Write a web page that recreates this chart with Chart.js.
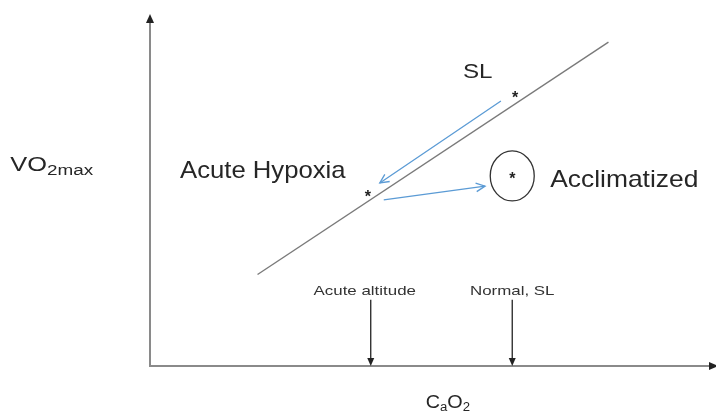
<!DOCTYPE html>
<html>
<head>
<meta charset="utf-8">
<script src="https://cdn.jsdelivr.net/npm/chart.js@4.4.1/dist/chart.umd.min.js"></script>
<style>
  body { margin: 0; background: #fff; }
  #wrap { width: 716px; height: 419px; }
</style>
</head>
<body>
<div id="wrap"><canvas id="diagram"></canvas></div>
<script>
// VO2max vs CaO2 (arbitrary units, 0..100 on both axes)
const lineX = [19, 81];
const lineY = [26, 92];
const stateNames = ['SL', 'Acute Hypoxia', 'Acclimatized'];
const stateX = [64.5, 38.5, 64];
const stateY = [77, 49, 54];
const cao2Labels = ['Acute altitude', 'Normal, SL'];
const cao2Values = [39, 64];
// blue shifts: SL -> acute hypoxia, acute hypoxia -> acclimatized
const shiftFromX = [62, 41.3];
const shiftFromY = [75.3, 47.2];
const shiftToX = [40.6, 59.2];
const shiftToY = [52, 51.1];

const blue = '#5b9bd5';
const grey = '#8a8a8a';
const ink = '#222';

function stretchText(ctx, txt, x, y, size, sx, align) {
    ctx.save();
    ctx.font = size + 'px "Liberation Sans", Arial, sans-serif';
    ctx.textBaseline = 'middle';
    let w = ctx.measureText(txt).width * sx;
    let left = align === 'center' ? x - w / 2 : x;
    ctx.translate(left, y);
    ctx.scale(sx, 1);
    ctx.textAlign = 'left';
    ctx.fillText(txt, 0, 0);
    ctx.restore();
    return w;
}

function chevron(ctx, x0, y0, x1, y1, len) {
    let a = Math.atan2(y1 - y0, x1 - x0);
    ctx.beginPath();
    ctx.moveTo(x1 - len * Math.cos(a - 0.45), y1 - len * Math.sin(a - 0.45));
    ctx.lineTo(x1, y1);
    ctx.lineTo(x1 - len * Math.cos(a + 0.45), y1 - len * Math.sin(a + 0.45));
    ctx.stroke();
}

function triangle(ctx, x0, y0, x1, y1, len, half) {
    let a = Math.atan2(y1 - y0, x1 - x0);
    let bx = x1 - len * Math.cos(a), by = y1 - len * Math.sin(a);
    ctx.beginPath();
    ctx.moveTo(x1, y1);
    ctx.lineTo(bx + half * Math.sin(a), by - half * Math.cos(a));
    ctx.lineTo(bx - half * Math.sin(a), by + half * Math.cos(a));
    ctx.closePath();
    ctx.fill();
}

const diagramPlugin = {
    id: 'diagram',
    beforeDatasetsDraw(chart) {
        const { ctx, chartArea: a, scales: { x, y } } = chart;
        ctx.save();
        // axes
        ctx.strokeStyle = grey;
        ctx.fillStyle = ink;
        ctx.lineWidth = 2;
        ctx.beginPath();
        ctx.moveTo(a.left, a.top + 6);
        ctx.lineTo(a.left, a.bottom);
        ctx.lineTo(a.right - 4, a.bottom);
        ctx.stroke();
        triangle(ctx, a.left, a.bottom, a.left, a.top, 9, 4);
        triangle(ctx, a.left, a.bottom, a.right + 2, a.bottom, 9, 4);

        // CaO2 markers
        ctx.strokeStyle = ink;
        ctx.lineWidth = 1.3;
        cao2Values.forEach((v, i) => {
            let px = x.getPixelForValue(v);
            let top = y.getPixelForValue(18.8);
            ctx.beginPath();
            ctx.moveTo(px, top);
            ctx.lineTo(px, a.bottom - 6);
            ctx.stroke();
            triangle(ctx, px, top, px, a.bottom, 8, 3.5);
            ctx.fillStyle = '#333';
            stretchText(ctx, cao2Labels[i], px - 6 * (1 - i), y.getPixelForValue(21.3), 13, 1.3, 'center');
            ctx.fillStyle = ink;
        });

        // circle round the acclimatized point
        ctx.strokeStyle = '#333';
        ctx.lineWidth = 1.3;
        ctx.beginPath();
        ctx.ellipse(x.getPixelForValue(stateX[2]), y.getPixelForValue(stateY[2]), 22, 25, 0, 0, Math.PI * 2);
        ctx.stroke();
        ctx.restore();
    },
    afterDatasetsDraw(chart) {
        const { ctx, scales: { x, y } } = chart;
        ctx.save();
        ctx.strokeStyle = blue;
        ctx.lineWidth = 1.3;
        shiftFromX.forEach((fx, i) => {
            chevron(ctx, x.getPixelForValue(fx), y.getPixelForValue(shiftFromY[i]),
                x.getPixelForValue(shiftToX[i]), y.getPixelForValue(shiftToY[i]), 10);
        });

        // asterisks
        ctx.fillStyle = ink;
        ctx.font = 'bold 16px "Liberation Sans", Arial, sans-serif';
        ctx.textAlign = 'center';
        ctx.textBaseline = 'middle';
        stateX.forEach((sx, i) => {
            ctx.fillText('*', x.getPixelForValue(sx), y.getPixelForValue(stateY[i]) + 4);
        });

        // labels
        ctx.fillStyle = '#262626';
        stretchText(ctx, stateNames[0], x.getPixelForValue(57.9), y.getPixelForValue(83.5), 21, 1.15, 'center');
        stretchText(ctx, stateNames[1], x.getPixelForValue(5.3), y.getPixelForValue(55.3), 24, 1.07, 'left');
        stretchText(ctx, stateNames[2], x.getPixelForValue(70.7), y.getPixelForValue(52.6), 24, 1.1, 'left');

        // axis titles
        let vx = x.getPixelForValue(-24.7), vy = y.getPixelForValue(57);
        let w = stretchText(ctx, 'VO', vx, vy, 20, 1.27, 'left');
        stretchText(ctx, '2max', vx + w, vy + 6, 14, 1.35, 'left');
        let cx = x.getPixelForValue(48.7), cy = y.getPixelForValue(-10.5);
        w = stretchText(ctx, 'C', cx, cy, 18, 1.1, 'left');
        w += stretchText(ctx, 'a', cx + w, cy + 5, 12, 1.1, 'left');
        w += stretchText(ctx, 'O', cx + w, cy, 18, 1.1, 'left');
        stretchText(ctx, '2', cx + w, cy + 5, 12, 1.1, 'left');
        ctx.restore();
    }
};

new Chart(document.getElementById('diagram'), {
    type: 'scatter',
    data: {
        datasets: [
            {
                label: 'VO2max vs CaO2',
                data: lineX.map((v, i) => ({ x: v, y: lineY[i] })),
                showLine: true,
                borderColor: '#7a7a7a',
                borderWidth: 1.4,
                pointRadius: 0
            },
            {
                label: 'shifts',
                data: [
                    { x: shiftFromX[0], y: shiftFromY[0] }, { x: shiftToX[0], y: shiftToY[0] },
                    { x: NaN, y: NaN },
                    { x: shiftFromX[1], y: shiftFromY[1] }, { x: shiftToX[1], y: shiftToY[1] }
                ],
                showLine: true,
                spanGaps: false,
                borderColor: blue,
                borderWidth: 1.3,
                pointRadius: 0
            }
        ]
    },
    options: {
        responsive: true,
        maintainAspectRatio: false,
        animation: false,
        layout: { padding: { left: 150, right: 0, top: 14, bottom: 53 } },
        plugins: { legend: { display: false }, tooltip: { enabled: false } },
        scales: {
            x: { type: 'linear', min: 0, max: 100, display: false },
            y: { type: 'linear', min: 0, max: 100, display: false }
        }
    },
    plugins: [diagramPlugin]
});
</script>
</body>
</html>
